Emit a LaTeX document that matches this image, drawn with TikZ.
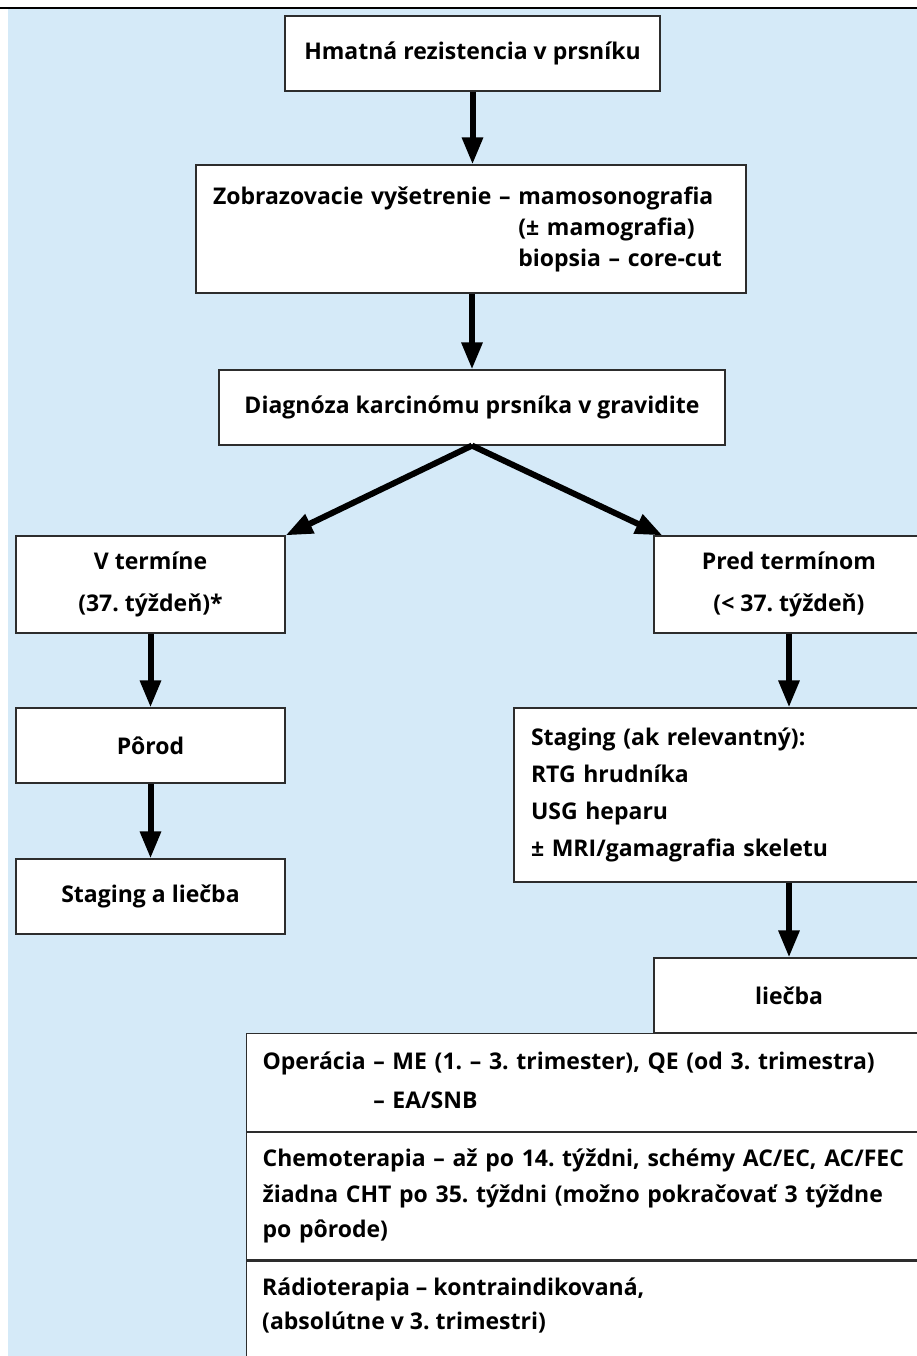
\documentclass[tikz,border=0pt]{standalone}
\usepackage{fontspec}
\setmainfont{Open Sans}
\usetikzlibrary{arrows.meta}
\usetikzlibrary{positioning}
\definecolor{bg1}{RGB}{213,234,248}
\definecolor{ln1}{RGB}{45,45,45}
\frenchspacing

\begin{document}
\begin{tikzpicture}[
    x=1pt, y=-1pt,
    font=\bfseries\fontsize{23}{28}\selectfont,
    e/.style={
        rectangle, fill=white, draw=ln1, line width=1.2pt,
        inner sep=0pt, align=center
    },
    el/.style={
        e, align=left, inner xsep=17pt
    },
    lsk/.style={font=\bfseries\fontsize{23}{#1}\selectfont},
    l/.style={
        line width=6pt,
        -{Triangle[length=27pt,width=20pt]}
    }
]

    \useasboundingbox (0, 0) rectangle (917, 1356);
    \clip (0, 0) rectangle (917, 1356);

    \fill [bg1] (8, 9) rectangle (917, 1356);
    \draw [line width=2.5pt] (0, 8) -- (917, 8);

    \node [e, minimum width=375, minimum height=75] (hmat) at (472.5, 53.5) {Hmatná rezistencia v prsníku};
    \node [el, lsk=31, text width=516, minimum height=128] (zobr) at (471, 229) {Zobrazovacie vyšetrenie – mamosonografia\\
        \phantom{Zobrazovacie vyšetrenie – }(± mamografia)\\
        \phantom{Zobrazovacie vyšetrenie – }biopsia – core-cut};
    \node [e, minimum width=506, minimum height=75] (diag) at (472, 407.5) {Diagnóza karcinómu prsníka v gravidite};
    \node [e, lsk=42, minimum width=269, minimum height=97] (vterm) at (150.5, 584.5) {V termíne\\(37. týždeň)*};
    \node [e, lsk=42, minimum width=270, minimum height=97] (pred) at (789, 584.5) {Pred termínom\\(< 37. týždeň)};
    \node [e, minimum width=269, minimum height=75] (porod) at (150.5, 745.5) {Pôrod};
    \node [e, minimum width=269, minimum height=75] (stagla) at (150.5, 896.5) {Staging a liečba};
    \node [el, lsk=37, text width=376, minimum height=174] (stag) at (719, 795) {Staging (ak relevantný):\\RTG hrudníka\\USG heparu\\± MRI/gamagrafia skeletu};
    \node [e, minimum width=270, minimum height=75] (liecba) at (789, 995.5) {liečba};

    % liecba - tabulka
    \node [el, lsk=39, text width=700, inner xsep=16, minimum height=98, anchor=north west] (oper) at (246, 1033) {Operácia – ME (1. – 3. trimester), QE (od 3. trimestra)\\\phantom{Operácia }– EA/SNB};
    \node [el, lsk=35.5, text width=700, inner xsep=16, minimum height=127, below=0pt of oper] (chemo) {Chemoterapia – až po 14. týždni, schémy AC/EC, AC/FEC\\žiadna CHT po 35. týždni (možno pokračovať 3 týždne\\po pôrode)};
    \node [el, text width=700, inner xsep=16, minimum height=200, below=0pt of chemo] (radio) {};
    \node [lsk=34, align=left, inner sep=0pt, anchor=north west] (radiotxt) at ([shift={(16,17)}]radio.north west) {Rádioterapia – kontraindikovaná,\\(absolútne v 3. trimestri)};

    \draw (hmat.south) edge [l] (hmat.south |- zobr.north);
    \draw (diag.north |- zobr.south) edge [l] (diag.north);
    \draw (diag.south) edge [l] (vterm.north east);
    \draw (diag.south) edge [l] ([xshift=9pt]pred.north west);
    \draw (vterm) edge [l] (porod);
    \draw (porod) edge [l] (stagla);
    \draw (pred) edge [l] (pred.south |- stag.north);
    \draw (liecba.north |- stag.south) edge [l] (liecba);

\end{tikzpicture}
\end{document}
